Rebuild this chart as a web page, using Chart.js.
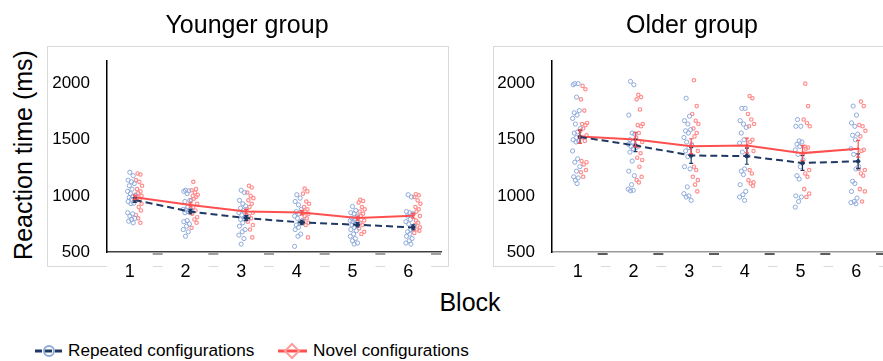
<!DOCTYPE html>
<html>
<head>
<meta charset="utf-8">
<script src="https://cdn.jsdelivr.net/npm/chart.js@4.4.1/dist/chart.umd.min.js"></script>
<style>
  html, body { margin: 0; padding: 0; background: #fff; overflow: hidden; }
  body { width: 883px; height: 361px; position: relative; font-family: "Liberation Sans", Arial, sans-serif; color: #000; }
  .box { position: absolute; border: 1px solid #d9d9d9; box-sizing: border-box; }
  .txt { position: absolute; line-height: 1; white-space: nowrap; }
  .title { font-size: 25px; transform: translateX(-50%); }
  canvas { position: absolute; }
  .legend { font-size: 17.2px; }
</style>
</head>
<body>
<div class="box" style="left:47px; top:46px; width:402px; height:221px;"></div>
<div class="box" style="left:493px; top:46px; width:402px; height:221px;"></div>

<canvas id="young" width="401" height="252" style="left:47px; top:34px;"></canvas>
<canvas id="old" width="400" height="252" style="left:493px; top:34px;"></canvas>

<div class="txt title" style="left:247px; top:12px;">Younger group</div>
<div class="txt title" style="left:692px; top:12px;">Older group</div>
<div class="txt" style="left:23px; top:155px; font-size:25px; transform: translate(-50%, -50%) rotate(-90deg);">Reaction time (ms)</div>
<div class="txt title" style="left:470px; top:290px;">Block</div>

<svg style="position:absolute; left:33px; top:342px;" width="32" height="18">
  <line x1="2" y1="9" x2="30" y2="9" stroke="#203864" stroke-width="3" stroke-dasharray="7 3"></line>
  <circle cx="16" cy="9" r="5" fill="none" stroke="#8eaadb" stroke-width="2"></circle>
</svg>
<div class="txt legend" style="left:68px; top:342px;">Repeated configurations</div>
<svg style="position:absolute; left:276px; top:342px;" width="34" height="18">
  <line x1="2" y1="9" x2="31" y2="9" stroke="#ff5050" stroke-width="3"></line>
  <polygon points="16,2 23,9 16,16 9,9" fill="none" stroke="#ff9c9c" stroke-width="2"></polygon>
</svg>
<div class="txt legend" style="left:313px; top:342px;">Novel configurations</div>

<script>
const blocks = [1, 2, 3, 4, 5, 6];
const blockLabels = ['1', '2', '3', '4', '5', '6'];
const yTicks = [500, 1000, 1500, 2000];

// group means and standard errors (ms)
const youngRepeatedMean = [963, 860, 802, 763, 743, 719];
const youngRepeatedSE = [22, 20, 22, 20, 20, 22];
const youngNovelMean = [987, 919, 860, 851, 802, 822];
const youngNovelSE = [20, 18, 20, 20, 18, 20];
const oldRepeatedMean = [1525, 1449, 1360, 1354, 1293, 1308];
const oldRepeatedSE = [58, 55, 70, 72, 66, 66];
const oldNovelMean = [1528, 1502, 1443, 1449, 1381, 1420];
const oldNovelSE = [60, 65, 66, 66, 66, 74];

// individual participants, one list per block
const youngRepeated = [
  [1210, 1180, 1140, 1125, 1110, 1090, 1060, 1040, 1020, 1005, 995, 985, 970, 950, 935, 930, 850, 840, 820, 800, 790, 775, 760],
  [1050, 1045, 1040, 1020, 960, 950, 900, 880, 875, 870, 860, 850, 780, 770, 750, 730, 700, 680, 640],
  [1050, 1030, 960, 930, 910, 890, 870, 850, 830, 820, 800, 790, 760, 730, 700, 680, 650, 620, 570],
  [1010, 980, 950, 920, 880, 860, 840, 820, 800, 780, 760, 740, 720, 700, 660, 640, 550],
  [905, 870, 850, 840, 820, 800, 790, 780, 770, 760, 750, 740, 720, 700, 690, 660, 640, 620, 600, 580, 570],
  [1010, 990, 860, 850, 840, 820, 790, 770, 750, 730, 700, 680, 660, 640, 620, 600, 580, 570]
];
const youngNovel = [
  [1200, 1190, 1140, 1125, 1090, 1060, 1040, 1025, 1010, 1000, 990, 975, 960, 930, 900, 870, 830, 800, 760],
  [1125, 1060, 1050, 1030, 1010, 1000, 990, 975, 960, 930, 900, 870, 840, 810, 790, 760, 715],
  [1090, 1075, 1030, 1000, 980, 960, 930, 900, 880, 850, 820, 800, 770, 740, 700, 630],
  [1065, 1040, 1020, 950, 930, 900, 880, 860, 850, 840, 820, 800, 780, 760, 740, 630],
  [965, 955, 940, 900, 880, 860, 840, 820, 800, 780, 760, 740, 710, 680, 660],
  [1015, 1005, 990, 960, 930, 900, 880, 860, 840, 820, 780, 760, 740, 720, 700, 690, 670]
];
const oldRepeated = [
  [2000, 2000, 1990, 1880, 1760, 1740, 1720, 1690, 1640, 1600, 1570, 1560, 1520, 1500, 1490, 1480, 1400, 1330, 1300, 1260, 1220, 1170, 1160, 1140, 1110],
  [2020, 1990, 1720, 1560, 1550, 1500, 1480, 1460, 1440, 1430, 1420, 1390, 1310, 1220, 1180, 1100, 1060, 1050, 1045],
  [1870, 1710, 1670, 1640, 1590, 1580, 1560, 1520, 1480, 1450, 1430, 1400, 1350, 1260, 1240, 1080, 1020, 1000, 990, 960],
  [1780, 1780, 1670, 1640, 1610, 1560, 1500, 1470, 1390, 1360, 1240, 1220, 1190, 1100, 1040, 1010, 990, 960],
  [1680, 1620, 1620, 1490, 1480, 1460, 1440, 1410, 1370, 1320, 1260, 1180, 1150, 1000, 990, 950, 900],
  [1800, 1720, 1650, 1620, 1550, 1540, 1500, 1420, 1370, 1260, 1240, 1130, 1110, 1040, 980, 950, 940, 930]
];
const oldNovel = [
  [1980, 1950, 1860, 1760, 1650, 1640, 1630, 1600, 1580, 1540, 1520, 1490, 1310, 1300, 1280, 1230, 1210, 1170],
  [1900, 1880, 1860, 1770, 1640, 1630, 1620, 1560, 1520, 1480, 1440, 1380, 1340, 1320, 1260, 1170, 1140, 1120],
  [2030, 1800, 1730, 1670, 1640, 1600, 1560, 1530, 1460, 1400, 1260, 1230, 1170, 1140, 1100, 1040],
  [1890, 1870, 1730, 1680, 1640, 1620, 1500, 1480, 1440, 1400, 1230, 1200, 1140, 1120, 1110, 1090],
  [2000, 1800, 1680, 1650, 1620, 1440, 1430, 1420, 1380, 1230, 1200, 1170, 1060, 1020, 990],
  [1840, 1800, 1630, 1620, 1580, 1530, 1410, 1400, 1240, 1230, 1200, 1180, 1060, 1040, 950]
];

// horizontal spread of the dots around each block (in block units)
const repeatedJitter = [-0.09, -0.03, -0.12, -0.06, -0.01, -0.10, -0.05, -0.13, -0.08, 0.01, -0.04, -0.10, -0.06, -0.12, -0.02, -0.07, -0.13, -0.04, -0.09, 0.00, -0.06, -0.11, -0.03, -0.08, -0.05];
const novelJitter = [0.05, 0.10, 0.02, 0.08, 0.13, 0.04, 0.10, 0.06, 0.01, 0.12, 0.05, 0.09, 0.03, 0.12, 0.07, 0.11, 0.02, 0.06, 0.10, 0.04, 0.08, 0.12, 0.06, 0.03, 0.09];

const FONT = '"Liberation Sans", Arial, sans-serif';
const NAVY = '#203864';
const RED = '#ff5050';

function toPoints(perBlock, jitter) {
  const pts = [];
  perBlock.forEach((vals, b) => {
    vals.forEach((v, i) => pts.push({ x: blocks[b] + jitter[i % jitter.length], y: v }));
  });
  return pts;
}

function toMeans(means) {
  return means.map((v, i) => ({ x: blocks[i], y: v }));
}

// error bars + the little marks under the x axis
const panelExtras = {
  id: 'panelExtras',
  afterDatasetsDraw(chart, args, opts) {
    const ctx = chart.ctx;
    const x = chart.scales.x;
    const y = chart.scales.y;
    ctx.save();
    chart.data.datasets.forEach(ds => {
      if (!ds.se) return;
      ctx.strokeStyle = ds.borderColor;
      ctx.lineWidth = 1.2;
      ctx.setLineDash([]);
      ds.data.forEach((p, i) => {
        const px = x.getPixelForValue(p.x);
        const top = y.getPixelForValue(p.y + ds.se[i]);
        const bot = y.getPixelForValue(p.y - ds.se[i]);
        ctx.beginPath();
        ctx.moveTo(px, top); ctx.lineTo(px, bot);
        ctx.moveTo(px - 2, top); ctx.lineTo(px + 2, top);
        ctx.moveTo(px - 2, bot); ctx.lineTo(px + 2, bot);
        ctx.stroke();
      });
    });
    ctx.strokeStyle = opts.dashColor;
    ctx.lineWidth = 1.5;
    blocks.forEach(b => {
      const bx = x.getPixelForValue(b + 0.5);
      ctx.beginPath();
      ctx.moveTo(bx - 10, y.bottom + 2);
      ctx.lineTo(bx, y.bottom + 2);
      ctx.stroke();
    });
    ctx.restore();
  }
};

function makePanel(id, repMean, repSE, novMean, novSE, repPts, novPts, yWidth, axisColor, dashColor, labelShift) {
  return new Chart(document.getElementById(id), {
    data: {
      datasets: [
        {
          type: 'line', data: toMeans(repMean), se: repSE,
          borderColor: NAVY, borderWidth: 2, borderDash: [7, 4],
          pointRadius: 1.8, pointBackgroundColor: NAVY, pointBorderColor: NAVY, pointBorderWidth: 1
        },
        {
          type: 'line', data: toMeans(novMean), se: novSE,
          borderColor: RED, borderWidth: 2,
          pointRadius: 1, pointBackgroundColor: RED, pointBorderColor: RED, pointBorderWidth: 1
        },
        {
          type: 'scatter', data: toPoints(repPts, repeatedJitter),
          pointRadius: 2.1, borderWidth: 1, borderColor: '#8eaadb', backgroundColor: 'rgba(255,255,255,0)'
        },
        {
          type: 'scatter', data: toPoints(novPts, novelJitter),
          pointRadius: 1.7, borderWidth: 1.2, borderColor: '#ff8f8f', backgroundColor: 'rgba(255,255,255,0)'
        }
      ]
    },
    options: {
      responsive: false,
      animation: false,
      layout: { padding: { top: 2, right: 7, left: 0, bottom: 0 } },
      plugins: {
        legend: { display: false },
        tooltip: { enabled: false },
        panelExtras: { dashColor: dashColor }
      },
      scales: {
        x: {
          type: 'linear', min: 0.5, max: 6.5,
          afterBuildTicks: s => { s.ticks = blocks.map(v => ({ value: v })); },
          afterFit: s => { s.height = 34; },
          grid: { display: false, drawTicks: false },
          border: { display: true, color: axisColor, width: 1.5 },
          ticks: {
            padding: 9, color: '#000', font: { family: FONT, size: 18 },
            labelOffset: labelShift,
            callback: (v, i) => blockLabels[i],
            showLabelBackdrop: true, backdropColor: '#fff',
            backdropPadding: { top: 2, bottom: 2, left: 18, right: 18 }
          }
        },
        y: {
          type: 'linear', min: 500, max: 2200,
          afterBuildTicks: s => { s.ticks = yTicks.map(v => ({ value: v })); },
          afterFit: s => { s.width = yWidth; },
          grid: { display: false, drawTicks: false },
          border: { display: true, color: '#000', width: 1.5 },
          ticks: { padding: 17, color: '#000', font: { family: FONT, size: 17 }, callback: v => String(v) }
        }
      }
    },
    plugins: [panelExtras]
  });
}

makePanel('young', youngRepeatedMean, youngRepeatedSE, youngNovelMean, youngNovelSE, youngRepeated, youngNovel, 60, '#404040', '#808080', -5);
makePanel('old', oldRepeatedMean, oldRepeatedSE, oldNovelMean, oldNovelSE, oldRepeated, oldNovel, 59, '#9a9a9a', '#262626', -2);
</script>
</body>
</html>
